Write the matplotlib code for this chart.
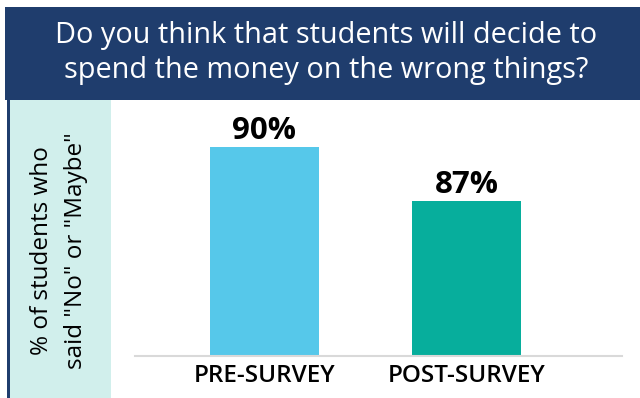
import matplotlib
matplotlib.use("Agg")
import matplotlib.pyplot as plt
from matplotlib.patches import Rectangle

categories = ["PRE-SURVEY", "POST-SURVEY"]
values = [90, 87]
value_labels = ["90%", "87%"]
title_text = "Do you think that students will decide to\nspend the money on the wrong things?"
ylabel_text = "% of students who\nsaid \"No\" or \"Maybe\""

W, H = 640, 398
fig = plt.figure(figsize=(W / 100, H / 100), dpi=100)
fig.patch.set_facecolor("white")

def fx(px):
    return px / W

def fy(py):
    return 1 - py / H

navy = "#1f3d6d"
# title banner
fig.patches.append(Rectangle((fx(5), fy(100)), fx(W - 5), fy(7) - fy(100),
                             transform=fig.transFigure, facecolor=navy,
                             edgecolor="none", zorder=0))
# light side panel with a navy rule on its left edge
fig.patches.append(Rectangle((fx(10), 0), fx(101), fy(100),
                             transform=fig.transFigure, facecolor="#d1efec",
                             edgecolor="none", zorder=0))
fig.patches.append(Rectangle((fx(7), 0), fx(3), fy(100),
                             transform=fig.transFigure, facecolor=navy,
                             edgecolor="none", zorder=0))

fig.text(fx(326), fy(53), title_text, ha="center", va="center", color="white",
         fontsize=20.8, family="Open Sans", linespacing=1.3)

fig.text(fx(59), fy(251), ylabel_text, ha="center", va="center", rotation=90,
         color="black", fontsize=17.5, family="Open Sans", linespacing=1.5)

ax = fig.add_axes([fx(135), fy(356), fx(622) - fx(135), fy(100) - fy(356)])
ax.set_facecolor("none")
x = list(range(len(categories)))
bars = ax.bar(x, values, width=0.54, color=["#56c8ea", "#07ae9c"], zorder=2)
ax.set_ylim(78.4, 92.6)
ax.set_xlim(-0.641, 1.77)

for xi, v, lab in zip(x, values, value_labels):
    ax.text(xi, v + 0.45, lab, ha="center", va="baseline", fontsize=22.5,
            fontweight="bold", family="Open Sans", color="black")

ax.set_xticks(x)
ax.set_xticklabels(categories, fontsize=17.5, family="Open Sans",
                   fontweight="semibold")
ax.tick_params(axis="x", length=0, pad=6)
ax.set_yticks([])
for s in ["top", "right", "left"]:
    ax.spines[s].set_visible(False)
ax.spines["bottom"].set_color("#d9d9d9")
ax.spines["bottom"].set_linewidth(1.5)

fig.savefig("out.png", dpi=100)
